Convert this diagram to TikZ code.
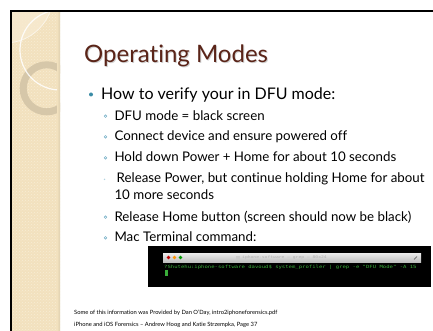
\documentclass[tikz,border=0pt]{standalone}
\usepackage{fontspec}
\setmainfont{Lato}[Ligatures={NoCommon}]
\newfontfamily\termfont{DejaVu Sans Mono}[FakeStretch=1.3]
\usetikzlibrary{patterns}

\definecolor{titlebrown}{HTML}{5A2418}
\definecolor{stripbase}{HTML}{F2E1BE}
\definecolor{stripdots}{HTML}{F8ECD4}
\definecolor{striplight}{HTML}{F7EAD0}
\definecolor{ringtan}{HTML}{D6C7A9}
\definecolor{bulletteal}{HTML}{3B8CA6}
\definecolor{subbullet}{HTML}{7FB6CC}
\definecolor{termgreen}{HTML}{3AAE3A}

\tikzset{
  lvlone/.style={anchor=base west, inner sep=0pt, font=\fontsize{16}{18}\selectfont},
  lvltwo/.style={anchor=base west, inner sep=0pt, font=\fontsize{13.3}{15}\selectfont},
  footer/.style={anchor=base west, inner sep=0pt, font=\fontsize{5.8}{7}\selectfont},
  mainbullet/.style={fill=bulletteal},
  subring/.style={draw=subbullet, line width=0.6pt},
}

\begin{document}
\begin{tikzpicture}[x=1pt, y=-1pt]
\useasboundingbox (0,0) rectangle (433,331);
\fill[white] (0,0) rectangle (433,331);

% left decorative strip
\begin{scope}
  \clip (12,12) rectangle (60,331);
  \fill[stripbase] (12,12) rectangle (60,331);
  \fill[pattern=crosshatch dots, pattern color=stripdots] (12,12) rectangle (60,331);
  \fill[striplight, opacity=0.8] (5,-5) circle (48);
  \draw[white, opacity=0.6, line width=0.8pt] (5,-5) circle (48);
  \draw[ringtan, line width=7pt] (46.7,88.3) circle (23.5);
  \draw[white, opacity=0.85, line width=1.2pt] (60,50) circle (40);
  \shade[left color=stripbase, right color=ringtan!70!stripbase] (57,12) rectangle (60,331);
\end{scope}

% frame edges
\fill[black] (10,10) rectangle (433,12);
\fill[black] (10,10) rectangle (12,331);

% title
\node[anchor=base west, inner sep=0pt, text=black, opacity=0.18,
      font=\fontsize{24}{28}\selectfont] (titleshadow) at (85,63.5) {Operating Modes};
\node[anchor=base west, inner sep=0pt, text=titlebrown,
      font=\fontsize{24}{28}\selectfont] (title) at (84,62.5) {Operating Modes};

% first level bullet
\fill[mainbullet] (91,94.5) circle (2);
\node[lvlone] (l1) at (101,99.3) {How to verify your in DFU mode:};

% second level bullets
\draw[subring] (105.5,116.2) circle (1.3);
\node[lvltwo] (s1) at (114.3,120.2) {DFU mode = black screen};
\draw[subring] (105.5,136.8) circle (1.3);
\node[lvltwo] (s2) at (114.3,140.8) {Connect device and ensure powered off};
\draw[subring] (105.5,157.8) circle (1.3);
\node[lvltwo] (s3) at (114.3,161.8) {Hold down Power + Home for about 10 seconds};
\fill[subbullet!60] (104.5,179.3) circle (0.8);
\node[lvltwo] (s4) at (116.5,182.8) {Release Power, but continue holding Home for about};
\node[lvltwo] (s4b) at (114.3,199.5) {10 more seconds};
\draw[subring] (105.5,217.2) circle (1.3);
\node[lvltwo] (s5) at (114.3,221.2) {Release Home button (screen should now be black)};
\draw[subring] (105.5,237.8) circle (1.3);
\node[lvltwo] (s6) at (114.3,241.8) {Mac Terminal command:};

% terminal window screenshot
\fill[black] (148,246) rectangle (431,287);
\shade[top color=gray!15, bottom color=gray!50] (163,253) rectangle (421,262);
\fill[red!75!black] (168.5,257.5) circle (1.9);
\fill[orange!85!yellow] (174.5,257.5) circle (1.9);
\fill[green!60!black] (180.5,257.5) circle (1.9);
\fill[gray!40] (236,255.5) rectangle (240,259.5);
\node[anchor=west, inner sep=0pt, text=gray!60,
      font=\termfont\fontsize{3.6}{4}\selectfont] (termtitle) at (242,257.6)
      {iphone-software — grep — 80x24};
\draw[gray!60!black, line width=0.4pt] (414,259.5) -- (417,256.5);
\node[anchor=base west, inner sep=0pt, text=termgreen,
      font=\termfont\fontsize{4.3}{5}\selectfont] (termline) at (164,268.6)
      {?Shutehu:iphone-software davoud\$ system\_profiler | grep -e "DFU Mode" -A 15};
\fill[termgreen] (165.2,270.4) rectangle (167.6,275.6);

% source notes
\node[footer] (note1) at (74,314.4) {Some of this information was Provided by Dan O’Day, intro2iphoneforensics.pdf};
\node[footer] (note2) at (74,326.4) {iPhone and iOS Forensics – Andrew Hoog and Katie Strzempka, Page 37};
\end{tikzpicture}
\end{document}
